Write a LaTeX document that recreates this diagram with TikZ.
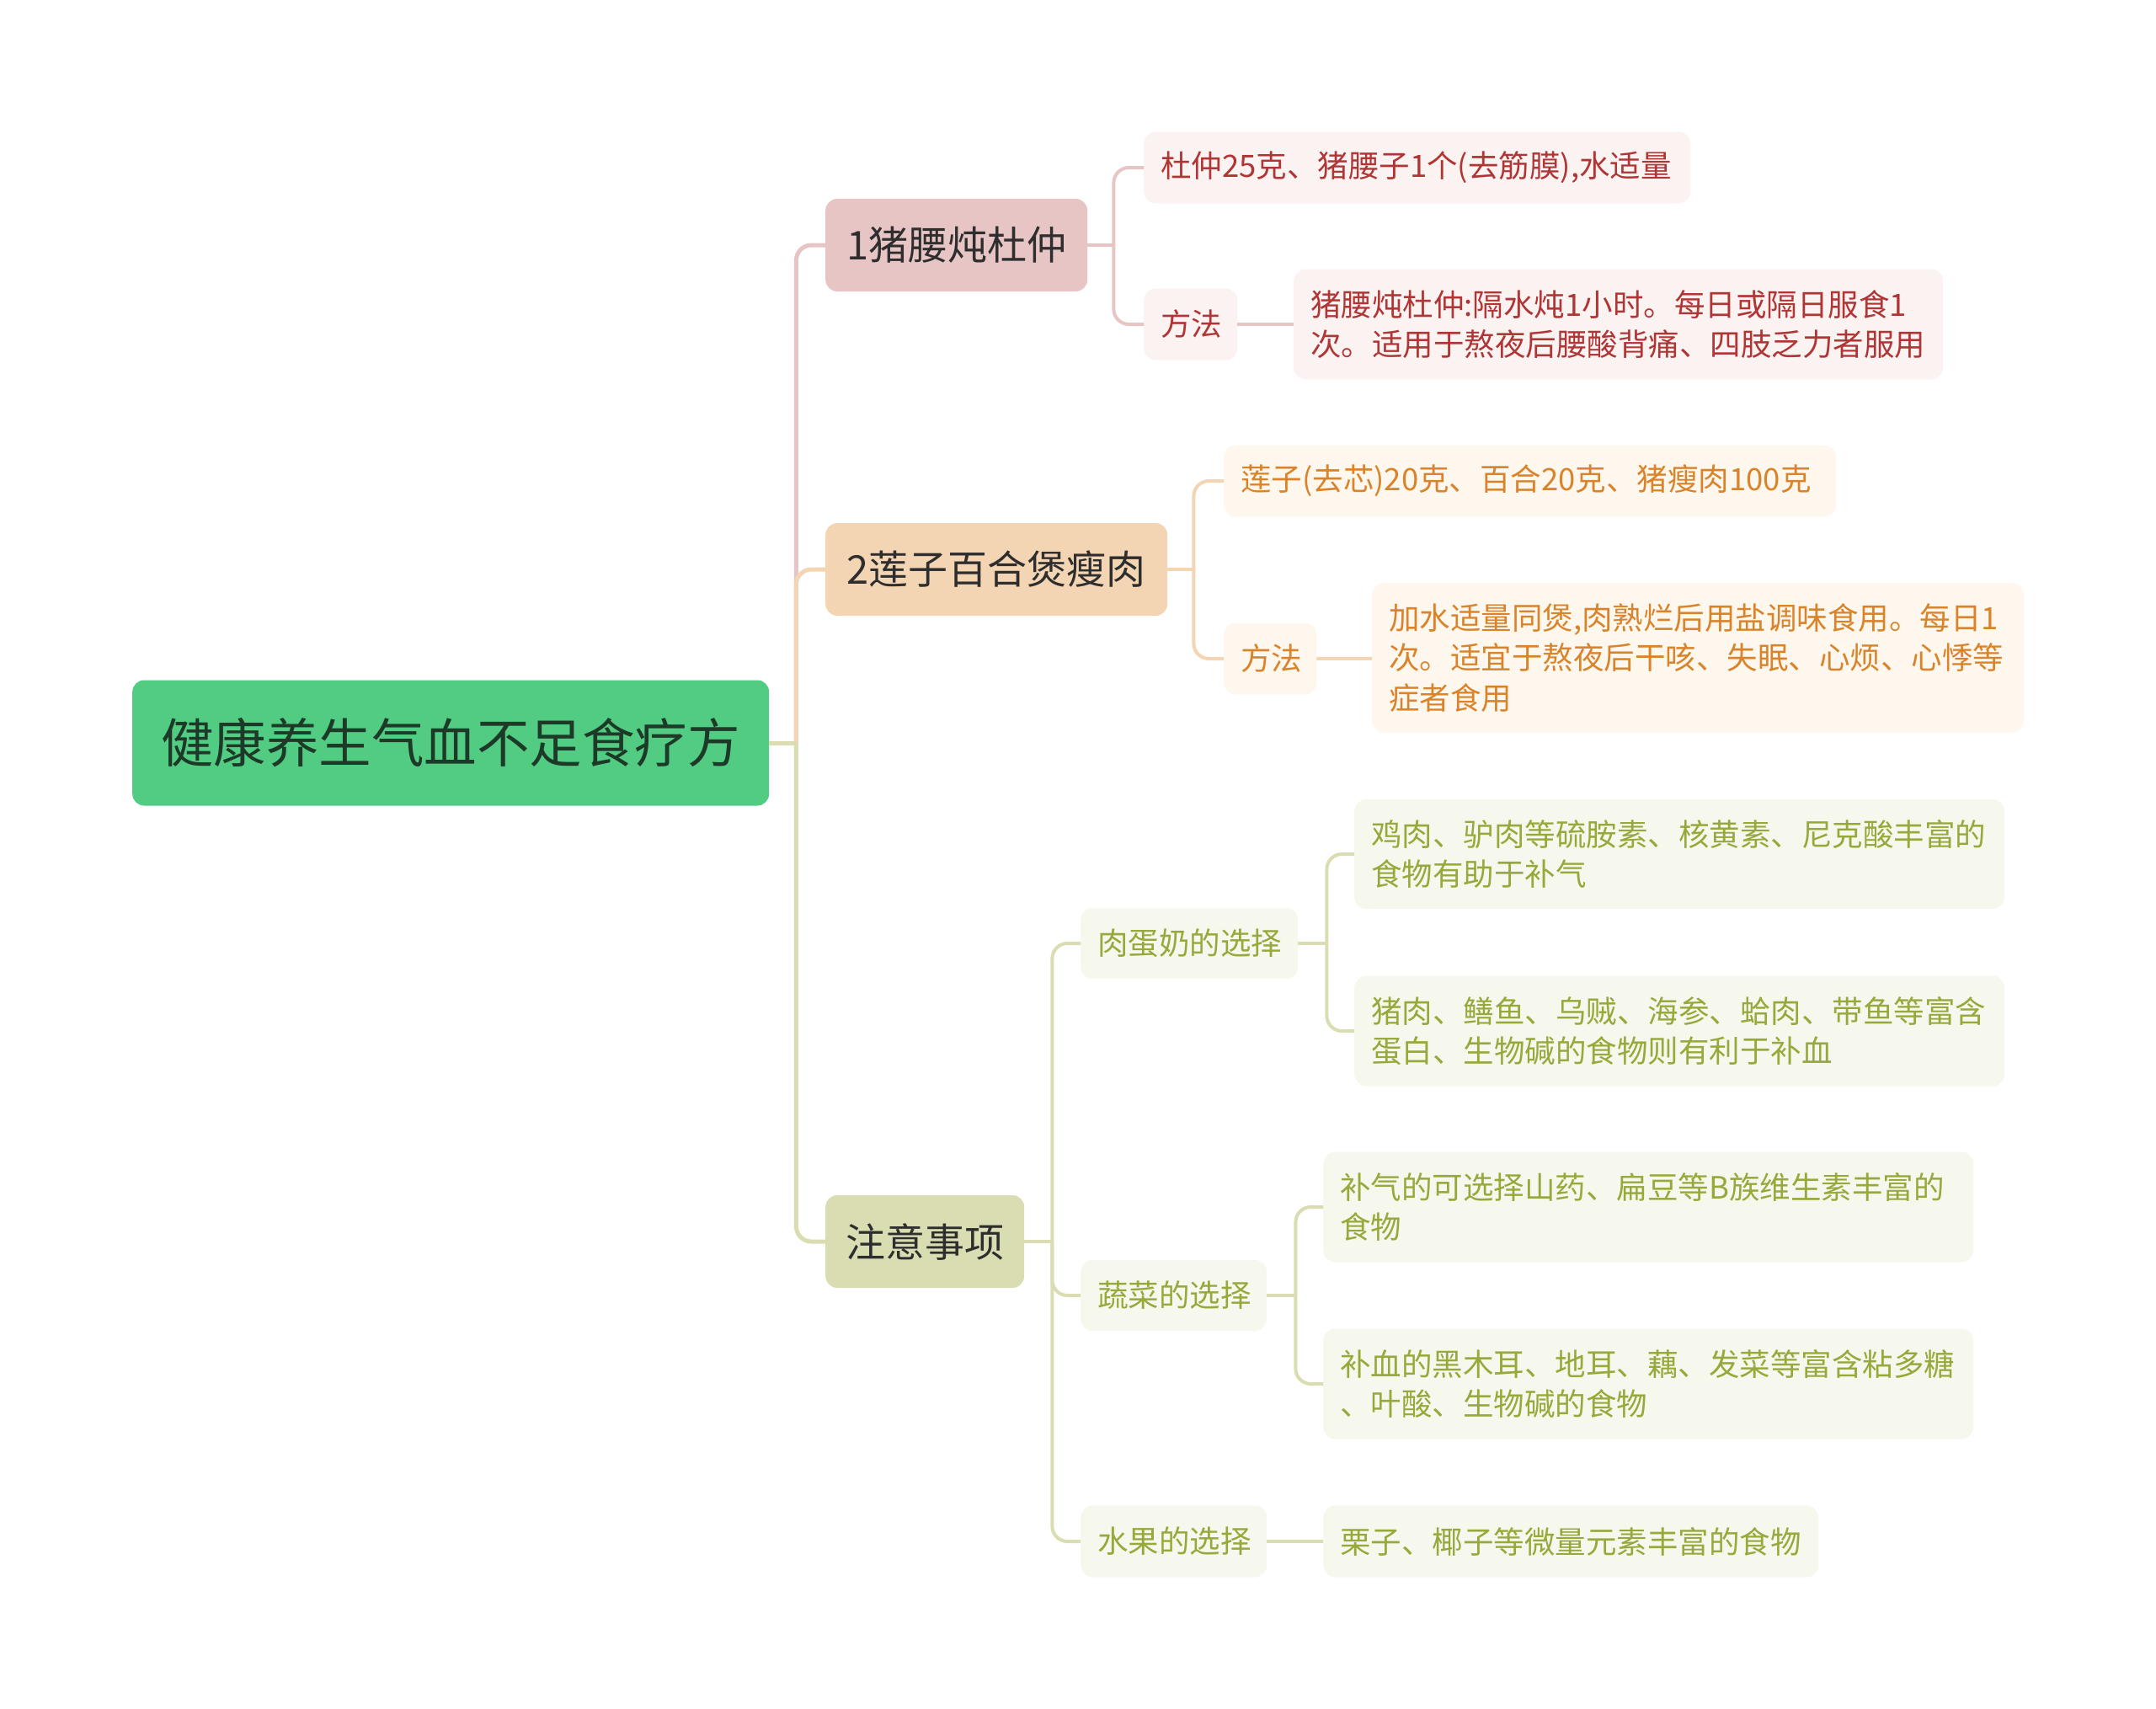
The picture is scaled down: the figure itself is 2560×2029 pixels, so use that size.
\documentclass[tikz,border=0pt]{standalone}
\usepackage{fontspec}
\setmainfont{Noto Sans CJK SC}

\definecolor{rootfill}{HTML}{52CC82}
\definecolor{roottext}{HTML}{1C3A27}
\definecolor{hubtext}{HTML}{2E2E2E}
\definecolor{pinkhub}{HTML}{E8C5C5}
\definecolor{pinkleaf}{HTML}{FBF2F2}
\definecolor{pinktext}{HTML}{B03535}
\definecolor{peachhub}{HTML}{F3D5B4}
\definecolor{peachleaf}{HTML}{FEF7EE}
\definecolor{peachtext}{HTML}{D9842A}
\definecolor{olivehub}{HTML}{D9DDB1}
\definecolor{oliveleaf}{HTML}{F6F8EE}
\definecolor{olivetext}{HTML}{97A93B}

\begin{document}
\begin{tikzpicture}[x=1pt, y=-1pt,
  hub/.style={rounded corners=14pt, inner sep=0pt, anchor=west, align=center},
  leaf/.style={rounded corners=14pt, inner xsep=20pt, inner ysep=0pt, anchor=west, align=left,
    font=\fontsize{36.5}{47.3}\selectfont},
  link/.style={line width=4pt, rounded corners=18pt}]
  \useasboundingbox (0,0) rectangle (2560,2029);
  \node[hub, fill=rootfill, text=roottext, minimum width=756pt, minimum height=149pt,
    font=\fontsize{62.5}{75}\selectfont] (root) at (157,882) {健康养生气血不足食疗方};
  \foreach \nm/\y/\w/\fc/\lab in {n1/291/311/pinkhub/1猪腰炖杜仲,
    n2/676/406/peachhub/2莲子百合煲瘦肉, n3/1474/236/olivehub/注意事项}{
    \node[hub, fill=\fc, text=hubtext, minimum width=\w pt, minimum height=110pt,
      font=\fontsize{47}{56}\selectfont] (\nm) at (980,\y) {\lab};
  }
  \foreach \nm/\x/\y/\w/\h/\fc/\tc/\txt in {
    a1/1358/199/649/85/pinkleaf/pinktext/{杜仲25克、猪腰子1个(去筋膜),水适量},
    a2/1358/385/111/85/pinkleaf/pinktext/{方法},
    a3/1536/385/771/131/pinkleaf/pinktext/{猪腰炖杜仲:隔水炖1小时。每日或隔日服食1\\次。适用于熬夜后腰酸背痛、四肢乏力者服用},
    b1/1453/571/727/85/peachleaf/peachtext/{莲子(去芯)20克、百合20克、猪瘦肉100克},
    b2/1453/782/110/85/peachleaf/peachtext/{方法},
    b3/1629/781/774/178/peachleaf/peachtext/{加水适量同煲,肉熟烂后用盐调味食用。每日1\\次。适宜于熬夜后干咳、失眠、心烦、心悸等\\症者食用},
    c1/1283/1120/258/84/oliveleaf/olivetext/{肉蛋奶的选择},
    c2/1283/1538/221/84/oliveleaf/olivetext/{蔬菜的选择},
    c3/1283/1830/221/85/oliveleaf/olivetext/{水果的选择},
    d1/1608/1014/772/130/oliveleaf/olivetext/{鸡肉、驴肉等硫胺素、核黄素、尼克酸丰富的\\食物有助于补气},
    d2/1608/1224/772/131/oliveleaf/olivetext/{猪肉、鳝鱼、乌贼、海参、蛤肉、带鱼等富含\\蛋白、生物碱的食物则有利于补血},
    e1/1571/1433/772/131/oliveleaf/olivetext/{补气的可选择山药、扁豆等B族维生素丰富的\\食物},
    e2/1571/1643/772/131/oliveleaf/olivetext/{补血的黑木耳、地耳、藕、发菜等富含粘多糖\\、叶酸、生物碱的食物},
    f1/1571/1830/588/85/oliveleaf/olivetext/{栗子、椰子等微量元素丰富的食物}
  }{
    \pgfmathsetmacro{\tw}{\w-40}
    \node[leaf, fill=\fc, text=\tc, text width=\tw pt, minimum height=\h pt] (\nm) at (\x,\y) {\txt};
  }
  % root to branches
  \coordinate (r0) at ([xshift=32pt]root.east);
  \draw[link, line width=5pt, pinkhub] (r0) |- (n1.west);
  \draw[link, line width=5pt, peachhub] (r0) |- (n2.west);
  \draw[link, line width=5pt, olivehub] (r0) |- (n3.west);
  \draw[link, line width=5pt, olivehub] (root.east) -- (r0);
  % first branch
  \coordinate (r1) at ([xshift=31pt]n1.east);
  \draw[link, pinkhub] (n1.east) -- (r1);
  \foreach \c in {a1,a2}{ \draw[link, pinkhub] (r1) |- (\c.west); }
  \draw[link, pinkhub] (a2) -- (a3);
  % second branch
  \coordinate (r2) at ([xshift=31pt]n2.east);
  \draw[link, peachhub] (n2.east) -- (r2);
  \foreach \c in {b1,b2}{ \draw[link, peachhub] (r2) |- (\c.west); }
  \draw[link, peachhub] (b2) -- (b3);
  % third branch
  \coordinate (r3) at ([xshift=33pt]n3.east);
  \draw[link, olivehub] (n3.east) -- (r3);
  \foreach \c in {c1,c2,c3}{ \draw[link, olivehub] (r3) |- (\c.west); }
  \coordinate (r4) at ([xshift=34pt]c1.east);
  \draw[link, olivehub] (c1.east) -- (r4);
  \foreach \c in {d1,d2}{ \draw[link, olivehub] (r4) |- (\c.west); }
  \coordinate (r5) at ([xshift=34pt]c2.east);
  \draw[link, olivehub] (c2.east) -- (r5);
  \foreach \c in {e1,e2}{ \draw[link, olivehub] (r5) |- (\c.west); }
  \draw[link, olivehub] (c3) -- (f1);
\end{tikzpicture}
\end{document}
